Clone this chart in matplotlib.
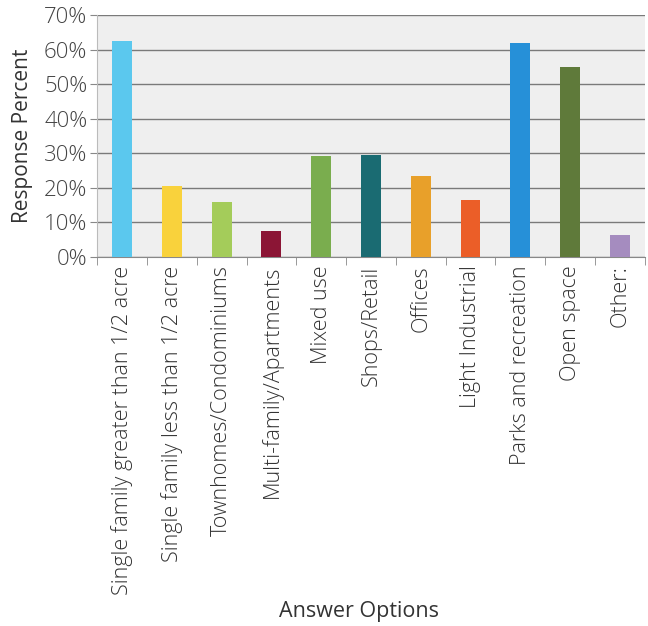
import numpy as np
import matplotlib.pyplot as plt
from matplotlib.ticker import FixedLocator

categories = [
    "Single family greater than 1/2 acre",
    "Single family less than 1/2 acre",
    "Townhomes/Condominiums",
    "Multi-family/Apartments",
    "Mixed use",
    "Shops/Retail",
    "Offices",
    "Light Industrial",
    "Parks and recreation",
    "Open space",
    "Other:",
]
values = [62.6, 20.5, 16.0, 7.5, 29.2, 29.5, 23.5, 16.5, 61.8, 55.0, 6.4]
colors = ["#5bc8ee", "#f9d23c", "#a4cc5a", "#8b1535", "#7aad4e", "#1a6b72",
          "#e8a02a", "#eb5e28", "#2690d8", "#5f7a3a", "#a58cbf"]
yticks = [0, 10, 20, 30, 40, 50, 60, 70]

plt.rcParams['font.family'] = ['Open Sans', 'DejaVu Sans']
plt.rcParams['font.weight'] = 'light'

fig = plt.figure(figsize=(6.48, 6.26), dpi=100)
ax = fig.add_axes([0.150, 0.5895, 0.845, 0.3865])

x = np.arange(len(categories))
ax.set_facecolor("#efefef")
ax.bar(x, values, width=0.4, color=colors, zorder=3)

ax.set_xlim(-0.5, len(categories) - 0.5)
ax.set_ylim(0, 70)
ax.set_yticks(yticks)
ax.set_yticklabels([f"{t}%" for t in yticks], fontsize=16, color="#444444")
ax.yaxis.grid(True, color="#7a7a7a", linewidth=1.0, zorder=1)

ax.set_xticks(x)
ax.set_xticklabels(categories, rotation=90, fontsize=15.5, color="#333333")
ax.tick_params(axis='x', length=0, pad=6)
ax.xaxis.set_minor_locator(FixedLocator(np.arange(-0.5, len(categories), 1.0)))
ax.tick_params(axis='x', which='minor', length=6, color="#888888")
ax.tick_params(axis='y', length=5, color="#888888", pad=2)

for s in ['top', 'right']:
    ax.spines[s].set_visible(False)
ax.spines['left'].set_color("#bbbbbb")
ax.spines['bottom'].set_color("#888888")

ax.set_ylabel("Response Percent", fontsize=15, color="#333333")
ax.yaxis.set_label_coords(-0.137, 0.5)
ax.yaxis.label.set_verticalalignment('center')
ax.set_xlabel("Answer Options", fontsize=15.5, color="#333333")
ax.xaxis.set_label_coords(0.478, -1.467)
ax.xaxis.label.set_verticalalignment('center')

fig.savefig("out.png", dpi=100)
